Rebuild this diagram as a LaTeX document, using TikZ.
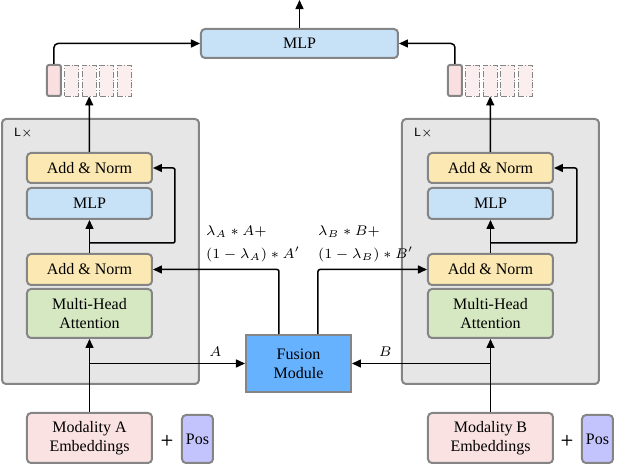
\documentclass[tikz,border=0pt]{standalone}
\usepackage{fontspec}
\setmainfont{Liberation Serif}
\newfontfamily\timesfont{Liberation Serif}
\usepackage{xcolor}
\usetikzlibrary{positioning,calc,arrows.meta}

\definecolor{edgegray}{HTML}{858585}
\definecolor{blockgray}{HTML}{E6E6E6}
\definecolor{normyellow}{HTML}{FCE8B2}
\definecolor{mlpblue}{HTML}{C7E1F6}
\definecolor{attgreen}{HTML}{D5E8C2}
\definecolor{embpink}{HTML}{F9E2E1}
\definecolor{tokpink}{HTML}{F9DFDF}
\definecolor{ghostpink}{HTML}{FAEEEE}
\definecolor{posblue}{HTML}{C3C3FD}
\definecolor{fusionblue}{HTML}{66B2FF}

\tikzset{
    box/.style={draw=edgegray, line width=1pt, rounded corners=2pt, align=center, inner sep=0pt},
    layer/.style={box, minimum width=62.5pt, minimum height=15.5pt},
    block/.style={box, fill=blockgray, minimum width=98.5pt, minimum height=132.5pt},
    token/.style={draw=edgegray, line width=1pt, rounded corners=1pt, fill=tokpink, minimum width=7pt, minimum height=15.5pt, inner sep=0pt},
    ghost/.style={draw=edgegray, line width=0.4pt, densely dashdotted, fill=ghostpink, minimum width=7pt, minimum height=15.5pt, inner sep=0pt},
    arr/.style={-{Triangle[length=4.5pt,width=4pt]}, line width=0.75pt},
    mix/.style={anchor=west, align=left, font=\fontsize{7}{8.5}\selectfont}
}

\begin{document}
\begin{tikzpicture}[x=0.5pt, y=-0.5pt, font=\timesfont\fontsize{8}{9.5}\selectfont]
    \useasboundingbox (0,0) rectangle (618,466);

    % Encoder blocks
    \node[block] (blockA) at (100.5,251.5) {};
    \node[block] (blockB) at (500.5,251.5) {};
    \node[anchor=west, font=\sffamily\fontsize{6}{7}\selectfont] (nA) at (7,133) {L$\times$};
    \node[anchor=west, font=\sffamily\fontsize{6}{7}\selectfont] (nB) at (407,133) {L$\times$};

    % Layers, modality A
    \node[layer, fill=normyellow, minimum height=15pt] (normA2) at (89.5,168) {Add \& Norm};
    \node[layer, fill=mlpblue] (mlpA) at (89.5,203.5) {MLP};
    \node[layer, fill=normyellow] (normA1) at (89.5,269.5) {Add \& Norm};
    \node[layer, fill=attgreen, minimum height=24.5pt] (attA) at (89.5,313.5) {Multi-Head\\Attention};

    % Layers, modality B
    \node[layer, fill=normyellow, minimum height=15pt] (normB2) at (490.5,168) {Add \& Norm};
    \node[layer, fill=mlpblue] (mlpB) at (490.5,203.5) {MLP};
    \node[layer, fill=normyellow] (normB1) at (490.5,269.5) {Add \& Norm};
    \node[layer, fill=attgreen, minimum height=24.5pt] (attB) at (490.5,313.5) {Multi-Head\\Attention};

    % Embeddings
    \node[box, fill=embpink, minimum width=62.5pt, minimum height=25pt] (embA) at (89.5,438) {Modality A\\Embeddings};
    \node[font=\sffamily\bfseries\fontsize{7.5}{9}\selectfont] (plusA) at (167,441) {+};
    \node[box, fill=posblue, minimum width=15.5pt, minimum height=24pt] (posA) at (197.5,439) {Pos};
    \node[box, fill=embpink, minimum width=62.5pt, minimum height=25pt] (embB) at (490.5,438) {Modality B\\Embeddings};
    \node[font=\sffamily\bfseries\fontsize{7.5}{9}\selectfont] (plusB) at (567,441) {+};
    \node[box, fill=posblue, minimum width=15.5pt, minimum height=24pt] (posB) at (597.5,439) {Pos};

    % Fusion
    \node[draw=edgegray, line width=1pt, fill=fusionblue, align=center, minimum width=52.5pt, minimum height=28.5pt, inner sep=0pt] (fusion) at (298.5,363.5) {Fusion\\Module};

    % Tokens
    \node[token] (tokA0) at (54,80.5) {};
    \node[token] (tokB0) at (455,80.5) {};
    \foreach \i in {1,...,4} {
        \node[ghost] (tokA\i) at (54+17.6*\i,80.5) {};
        \node[ghost] (tokB\i) at (455+17.6*\i,80.5) {};
    }

    % Head
    \node[box, fill=mlpblue, minimum width=98.5pt, minimum height=14.5pt] (mlp) at (299.5,43.5) {MLP};
    \coordinate (out) at (299.5,0);
    \draw[arr] (mlp.north) -- (out);
    \draw[arr, rounded corners=2pt] (tokA0.north) |- (mlp.west);
    \draw[arr, rounded corners=2pt] (tokB0.north) |- (mlp.east);

    % Flow, modality A
    \draw[arr] (embA.north) -- (attA.south);
    \draw[arr] (normA1.north) -- (mlpA.south);
    \coordinate (loopA) at (175,243);
    \draw[arr, rounded corners=1pt] (normA1.north |- loopA) -| (loopA |- normA2.east) -- (normA2.east);
    \draw[arr] (normA2.north) -- (tokA2.south);
    \draw[arr] (embA.north |- fusion.west) -- (fusion.west) node[pos=0.81, above, font=\fontsize{7}{8}\selectfont] (lblA) {$A$};

    % Flow, modality B
    \draw[arr] (embB.north) -- (attB.south);
    \draw[arr] (normB1.north) -- (mlpB.south);
    \coordinate (loopB) at (577,243);
    \draw[arr, rounded corners=1pt] (normB1.north |- loopB) -| (loopB |- normB2.east) -- (normB2.east);
    \draw[arr] (normB2.north) -- (tokB2.south);
    \draw[arr] (embB.north |- fusion.east) -- (fusion.east) node[pos=0.76, above, font=\fontsize{7}{8}\selectfont] (lblB) {$B$};

    % Fusion outputs
    \draw[arr, rounded corners=1pt] ([xshift=-9.75pt]fusion.north) |- (normA1.east);
    \draw[arr, rounded corners=1pt] ([xshift=9.75pt]fusion.north) |- (normB1.west);
    \node[mix] (mixA) at (199,244) {$\lambda_A * A+$\\[3pt]$(1-\lambda_A) * A'$};
    \node[mix] (mixB) at (311,244) {$\lambda_B * B+$\\[3pt]$(1-\lambda_B) * B'$};

\end{tikzpicture}
\end{document}
